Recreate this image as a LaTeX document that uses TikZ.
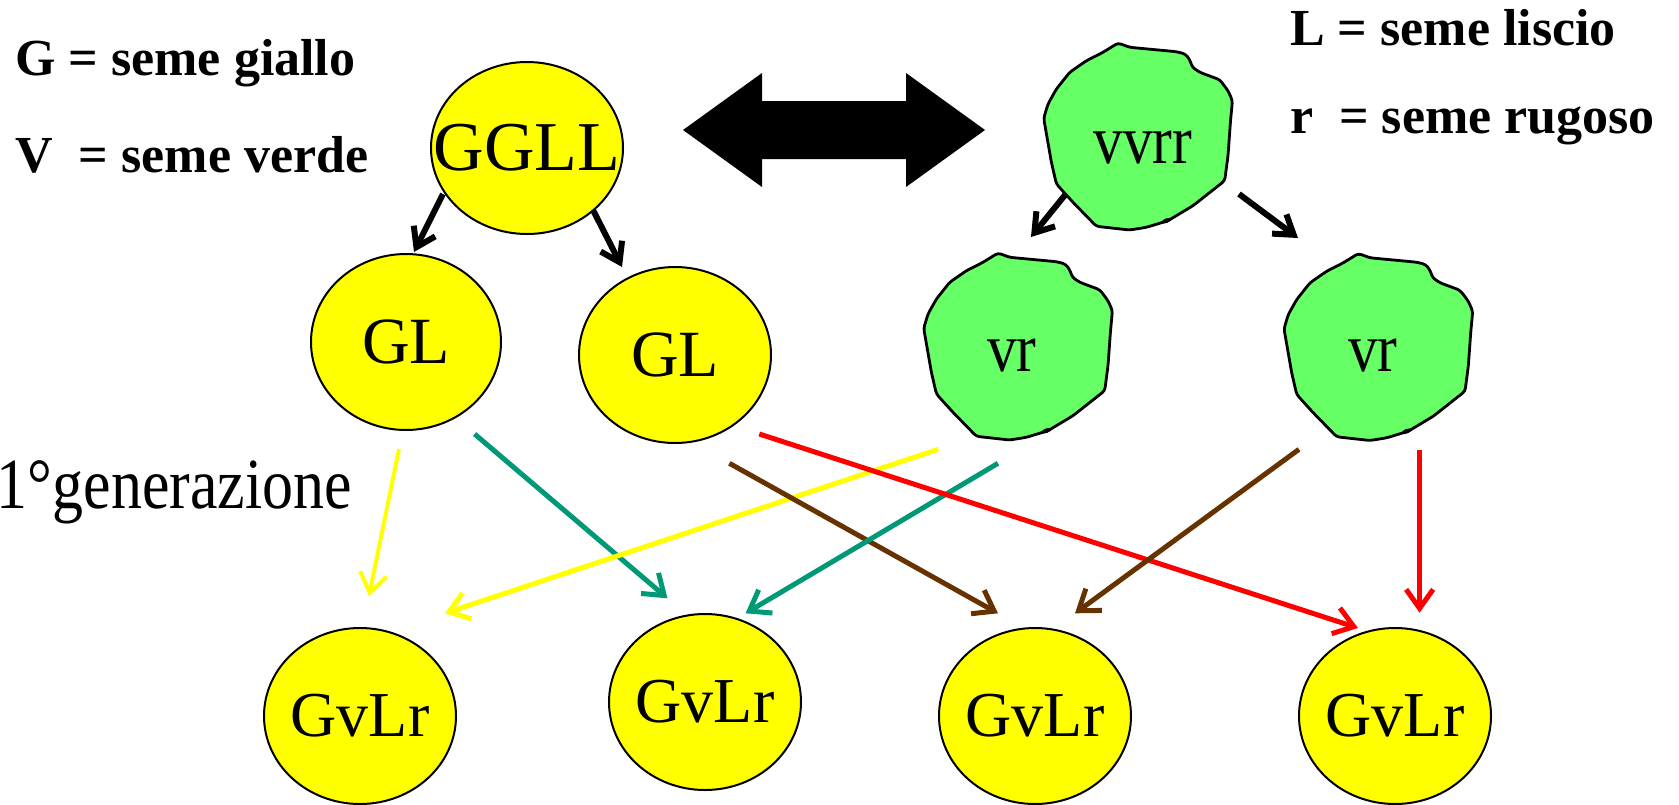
\documentclass[tikz,border=0pt]{standalone}
\usepackage{fontspec}
\setmainfont{Liberation Serif}
\newfontfamily\condfont[FakeStretch=0.86]{Liberation Serif}
\usetikzlibrary{shapes.geometric,arrows.meta,calc}
\definecolor{tealc}{RGB}{0,153,119}
\definecolor{brownc}{RGB}{102,51,0}
\definecolor{lgreen}{RGB}{102,255,102}
\definecolor{yell}{RGB}{255,255,0}
\newcommand\zw[1]{\makebox[0pt]{#1}}
\tikzset{
  yseed/.style={ellipse, draw=black, line width=2pt, fill=yell, inner sep=0pt,
    minimum width=192pt, minimum height=176pt, font=\fontsize{64}{76}\selectfont},
  blobsty/.style={draw=black, fill=lgreen, line width=2.8pt, line join=round, rounded corners=3pt},
  glabel/.style={inner sep=0pt, font=\condfont\fontsize{69}{80}\selectfont},
  legend/.style={anchor=base west, inner sep=0pt, font=\bfseries\fontsize{52}{62}\selectfont},
  blk/.style={draw=black, line width=6pt, -{Straight Barb[length=18pt,width=24pt]}},
  col/.style={line width=5pt, -{Straight Barb[length=19pt,width=27pt]}},
}
\newcommand\drawblob[1]{%
  \filldraw[blobsty, shift={(#1)}] (-20,-93.5) -- (-8.3,-89.2) -- (38.4,-84.8) -- (47.4,-82.5) -- (51.7,-76.8) -- (54.4,-69.2) -- (61.7,-64.2) -- (81.7,-56.8) -- (90,-45.8) -- (94.4,-35.8) -- (92.4,-14.2) -- (90,19.2) -- (86.7,44.2) -- (55,69.2) -- (30,84.2) -- (8.4,90.8) -- (-8.3,93.5) -- (-41.6,89.8) -- (-65,65.8) -- (-81.6,47.5) -- (-86.6,25.8) -- (-94.3,-18.2) -- (-90,-32.5) -- (-81.6,-47.5) -- (-68.3,-64.2) -- (-51.6,-75.8) -- (-35,-84.2) -- cycle;
  \fill[shift={(#1)}, shift={(28.4,84.2)}, rotate=20] (0,0) ellipse [x radius=5pt, y radius=2.3pt];
}
\begin{document}
\begin{tikzpicture}[x=1pt,y=-1pt]
\useasboundingbox (0,0) rectangle (1679,804);
\clip (0,0) rectangle (1679,804);

% legends
\node[legend] (lg) at (15,75) {G = seme giallo};
\node[legend] (lv) at (15,172) {V\ \ = seme verde};
\node[legend] (ll) at (1290,45) {L = seme liscio};
\node[legend] (lr) at (1290,133) {r\ \ = seme rugoso};
\node[anchor=base east, inner sep=0pt, font=\condfont\fontsize{72}{86}\selectfont] (gen) at (352,508) {1°generazione};

% parents
\node[yseed, minimum height=172pt, font=\fontsize{70}{84}\selectfont] (ggll) at (527,148) {\zw{GGLL}};
\drawblob{1138,136.5}
\node[glabel] (vvrr) at (1143,147.5) {vvrr};

% double arrow
\fill[black] (683,130) -- (762,73) -- (762,101) -- (906,101) -- (906,73) -- (985,130) -- (906,187) -- (906,159) -- (762,159) -- (762,187) -- cycle;

% gametes
\node[yseed, minimum width=190pt, font=\fontsize{66}{78}\selectfont] (gl1) at (406,342) {\zw{GL}};
\node[yseed, font=\fontsize{66}{78}\selectfont] (gl2) at (675,355) {\zw{GL}};
\drawblob{1018,346.5}
\node[glabel] (vr1) at (1012,356) {vr};
\drawblob{1378.3,347}
\node[glabel] (vr2) at (1373,355.5) {vr};

% offspring
\node[yseed] (e1) at (360,716) {\zw{GvLr}};
\node[yseed] (e2) at (705,702) {\zw{GvLr}};
\node[yseed] (e3) at (1035,716) {\zw{GvLr}};
\node[yseed] (e4) at (1395,716) {\zw{GvLr}};

% black arrows
\draw[blk] ($(ggll)+(-84,46)$) -- ($(gl1)+(8,-90)$);
\draw[blk] ($(ggll)+(66,62)$) -- ($(gl2)+(-53,-88)$);
\draw[blk] ($(vvrr)+(-78,47.5)$) -- ($(vr1)+(19,-119)$);
\draw[blk] ($(vvrr)+(96,46.5)$) -- ($(vr2)+(-75,-117.5)$);

% coloured arrows
\draw[col, draw=yell, line width=4pt] ($(gl1)+(-7,107)$) -- ($(e1)+(9,-120)$);
\draw[col, draw=tealc] ($(gl1)+(68.6,92)$) -- ($(e2)+(-37.5,-103.7)$);
\draw[col, draw=yell] ($(vr1)+(-73.7,93.3)$) -- ($(e1)+(84.8,-102.7)$);
\draw[col, draw=brownc] ($(gl2)+(54.4,108.3)$) -- ($(e3)+(-37,-102.7)$);
\draw[col, draw=tealc] ($(vr1)+(-14,107.3)$) -- ($(e2)+(40.5,-88.7)$);
\draw[col, draw=red] ($(gl2)+(84.3,79)$) -- ($(e4)+(-37,-88)$);
\draw[col, draw=brownc] ($(vr2)+(-74,93.8)$) -- ($(e3)+(40,-102.7)$);
\draw[col, draw=red] ($(vr2)+(46.6,94.5)$) -- ($(e4)+(24.6,-103.3)$);
\end{tikzpicture}
\end{document}
